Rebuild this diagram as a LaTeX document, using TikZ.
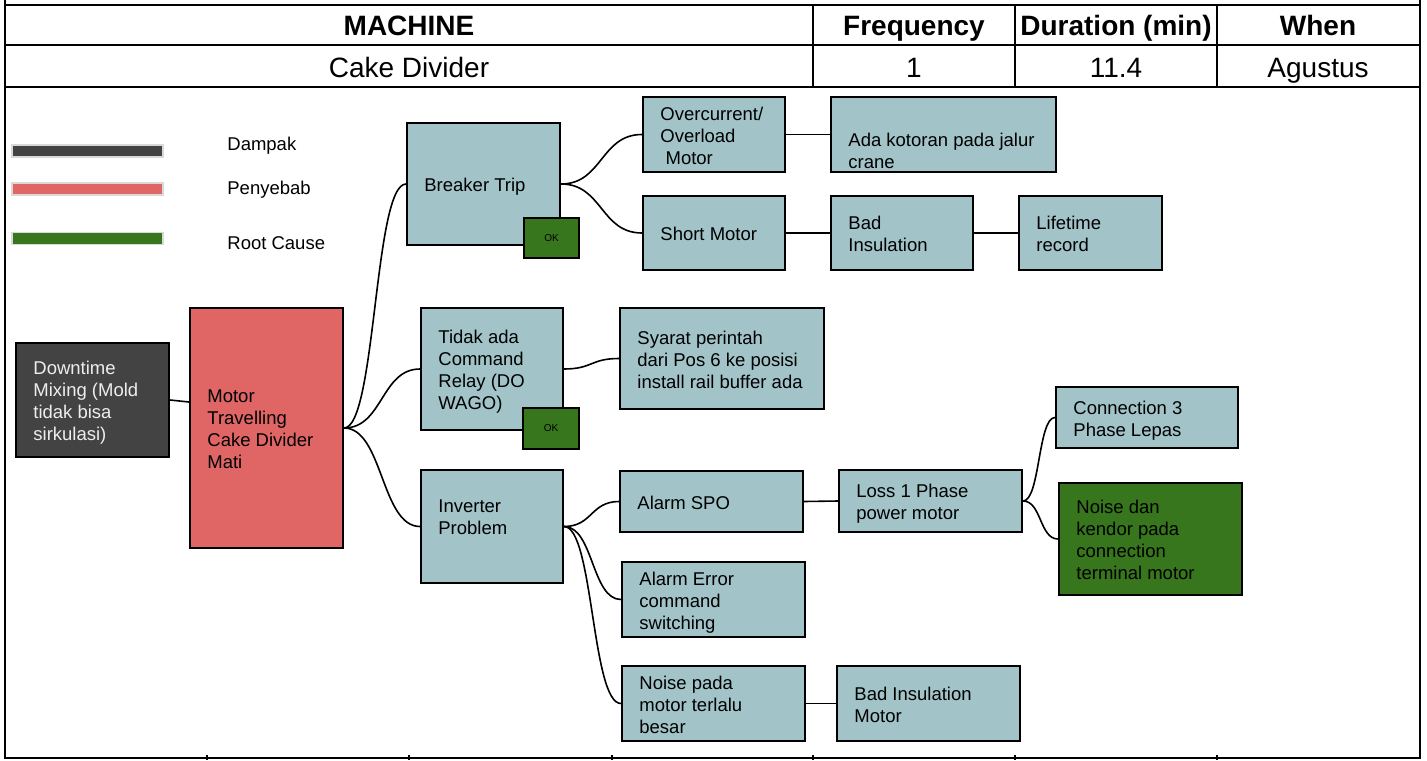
\documentclass[tikz,border=0pt]{standalone}
\usepackage{fontspec}
\setmainfont{Liberation Sans}
\usetikzlibrary{calc}
\definecolor{tealc}{HTML}{A2C4C9}
\definecolor{redc}{HTML}{E06666}
\definecolor{darkc}{HTML}{434343}
\definecolor{greenc}{HTML}{38761D}
\newcommand\mystrut{\rule[-2.2pt]{0pt}{11pt}}
\begin{document}
\begin{tikzpicture}[x=0.5pt,y=-0.5pt,
 tbox/.style={draw=black, line width=1pt, fill=tealc, inner sep=0pt, rectangle},
 okbox/.style={draw=black, line width=1pt, fill=greenc, inner sep=0pt, font=\fontsize{5}{6}\selectfont},
 txt/.style={inner sep=0pt, align=left, font=\fontsize{9.25}{11}\selectfont, anchor=west, yshift=-1.5pt, execute at begin node=\mystrut, execute at end node=\mystrut},
 oneline/.style={yshift=1pt},
 conn/.style={draw=black, line width=0.8pt},
 gridline/.style={draw=black, line width=1pt},
 head/.style={inner sep=0pt, font=\fontsize{14}{16}\selectfont\bfseries, text height=12.5pt, text depth=2.5pt},
 cell/.style={inner sep=0pt, font=\fontsize{14}{16}\selectfont, text height=12.5pt, text depth=2.5pt},
 legbar/.style={draw=black!15, line width=0.7pt, inner sep=0pt, minimum width=75.5pt, minimum height=6pt},
 legtxt/.style={inner sep=0pt, anchor=west, font=\fontsize{9.25}{11}\selectfont, text height=8.8pt, text depth=2.2pt}
]
\useasboundingbox (0,0) rectangle (1427,760);
\fill[white] (0,0) rectangle (1427,760);

% table
\draw[gridline] (5,0) -- (5,758) -- (1420,758) -- (1420,0);
\draw[gridline] (5,5) -- (1420,5);
\draw[gridline] (5,45) -- (1420,45);
\draw[gridline] (5,87) -- (1420,87);
\foreach \x in {813,1015,1217} \draw[gridline] (\x,5) -- (\x,87);
\foreach \x in {207,409,612,813,1015,1217} \draw[line width=1pt] (\x,755) -- (\x,760);

\node[head] (hM) at (409,25) {MACHINE};
\node[head] (hF) at (914,25) {Frequency};
\node[head] (hD) at (1116,25) {Duration (min)};
\node[head] (hW) at (1318,25) {When};
\node[cell] (cM) at (409,67) {Cake Divider};
\node[cell] (cF) at (914,67) {1};
\node[cell] (cD) at (1116,67) {11.4};
\node[cell] (cW) at (1318,67) {Agustus};

% legend
\node[legbar, fill=darkc] (lg1) at (87.5,151) {};
\node[legbar, fill=redc] (lg2) at (87.5,189) {};
\node[legbar, fill=greenc] (lg3) at (87.5,238.5) {};
\node[legtxt] (lt1) at (227,144) {Dampak};
\node[legtxt] (lt2) at (227,188) {Penyebab};
\node[legtxt] (lt3) at (227,243) {Root Cause};

% boxes
\node[tbox, fill=darkc, minimum width=76.5pt, minimum height=57pt] (dt) at (92.5,400) {};
\node[txt, text=white!93!black] (dtT) at ([xshift=9pt]dt.west) {Downtime\\Mixing (Mold\\tidak bisa\\sirkulasi)};

\node[tbox, fill=redc, minimum width=76.5pt, minimum height=120pt] (mt) at (266.5,428) {};
\node[txt] (mtT) at ([xshift=9pt]mt.west) {Motor\\Travelling\\Cake Divider\\Mati};

\node[tbox, minimum width=76.5pt, minimum height=61pt] (bt) at (483.5,184) {};
\node[txt, oneline] (btT) at ([xshift=9pt]bt.west) {Breaker Trip};

\node[tbox, minimum width=71pt, minimum height=37.5pt] (oc) at (714,134.5) {};
\node[txt] (ocT) at ([xshift=9pt]oc.west) {Overcurrent/\\Overload\\\hspace*{0.28em}Motor};

\node[tbox, minimum width=71pt, minimum height=37pt] (sm) at (714,233) {};
\node[txt, oneline] (smT) at ([xshift=9pt]sm.west) {Short Motor};

\node[tbox, minimum width=112.5pt, minimum height=37.5pt] (ak) at (943.5,134.5) {};
\node[txt] (akT) at ([xshift=9pt,yshift=-7.75pt]ak.west) {Ada kotoran pada jalur\\crane};

\node[tbox, minimum width=71pt, minimum height=37pt] (bi) at (902,233) {};
\node[txt] (biT) at ([xshift=9pt]bi.west) {Bad\\Insulation};

\node[tbox, minimum width=71.5pt, minimum height=37pt] (lr) at (1090.5,233) {};
\node[txt] (lrT) at ([xshift=9pt]lr.west) {Lifetime\\record};

\node[tbox, minimum width=71pt, minimum height=61pt] (ta) at (492,369) {};
\node[txt] (taT) at ([xshift=9pt]ta.west) {Tidak ada\\Command\\Relay (DO\\WAGO)};

\node[tbox, minimum width=102pt, minimum height=50.5pt] (sy) at (722,358.5) {};
\node[txt] (syT) at ([xshift=9pt]sy.west) {Syarat perintah\\dari Pos 6 ke posisi\\install rail buffer ada};

\node[tbox, minimum width=71pt, minimum height=56.5pt] (inv) at (492,526.5) {};
\node[txt] (invT) at ([xshift=9pt,yshift=5.25pt]inv.west) {Inverter\\Problem};

\node[tbox, minimum width=91.5pt, minimum height=30.5pt] (as) at (711.5,501.5) {};
\node[txt, oneline] (asT) at ([xshift=9pt]as.west) {Alarm SPO};

\node[tbox, minimum width=91.5pt, minimum height=37.5pt] (ae) at (713.5,599.5) {};
\node[txt] (aeT) at ([xshift=9pt]ae.west) {Alarm Error\\command\\switching};

\node[tbox, minimum width=91.5pt, minimum height=37.5pt] (np) at (713.5,703.5) {};
\node[txt] (npT) at ([xshift=9pt]np.west) {Noise pada\\motor terlalu\\besar};

\node[tbox, minimum width=91.5pt, minimum height=37.5pt] (bim) at (928.5,703.5) {};
\node[txt] (bimT) at ([xshift=9pt]bim.west) {Bad Insulation\\Motor};

\node[tbox, minimum width=91.5pt, minimum height=31pt] (lp) at (930.5,501) {};
\node[txt] (lpT) at ([xshift=9pt]lp.west) {Loss 1 Phase\\power motor};

\node[tbox, minimum width=91pt, minimum height=30.5pt] (c3) at (1147,417.5) {};
\node[txt] (c3T) at ([xshift=9pt]c3.west) {Connection 3\\Phase Lepas};

\node[tbox, fill=greenc, minimum width=91.5pt, minimum height=56pt] (nd) at (1150.5,539) {};
\node[txt] (ndT) at ([xshift=9pt]nd.west) {Noise dan\\kendor pada\\connection\\terminal motor};

% OK boxes
\node[okbox, minimum width=27.5pt, minimum height=20pt] (ok1) at (551.5,238) {OK};
\node[okbox, minimum width=28pt, minimum height=20.5pt] (ok2) at (551,428.5) {OK};

% connectors
\draw[conn] (dt.east) -- ([yshift=-1pt]dt.east -| mt.west);
\draw[conn] (mt.east) .. controls +(32,0) and +(-32,0) .. (bt.west);
\draw[conn] (mt.east) .. controls +(39,0) and +(-39,0) .. (ta.west);
\draw[conn] (mt.east) .. controls +(39,0) and +(-39,0) .. (inv.west);
\draw[conn] (bt.east) .. controls +(41.5,0) and +(-41.5,0) .. (oc.west);
\draw[conn] (bt.east) .. controls +(41.5,0) and +(-41.5,0) .. (sm.west);
\draw[conn] (oc.east) -- (ak.west);
\draw[conn] (sm.east) -- (bi.west);
\draw[conn] (bi.east) -- (lr.west);
\draw[conn] (ta.east) .. controls +(28.5,0) and +(-28.5,0) .. (sy.west);
\draw[conn] (inv.east) .. controls +(28.5,0) and +(-28.5,0) .. (as.west);
\draw[conn] (inv.east) .. controls +(29.5,0) and +(-29.5,0) .. (ae.west);
\draw[conn] (inv.east) .. controls +(29.5,0) and +(-29.5,0) .. (np.west);
\draw[conn] (as.east) -- (lp.west);
\draw[conn] (np.east) -- (bim.west);
\draw[conn] (lp.east) .. controls +(17,0) and +(-17,0) .. (c3.west);
\draw[conn] (lp.east) .. controls +(18.5,0) and +(-18.5,0) .. (nd.west);
\end{tikzpicture}
\end{document}
